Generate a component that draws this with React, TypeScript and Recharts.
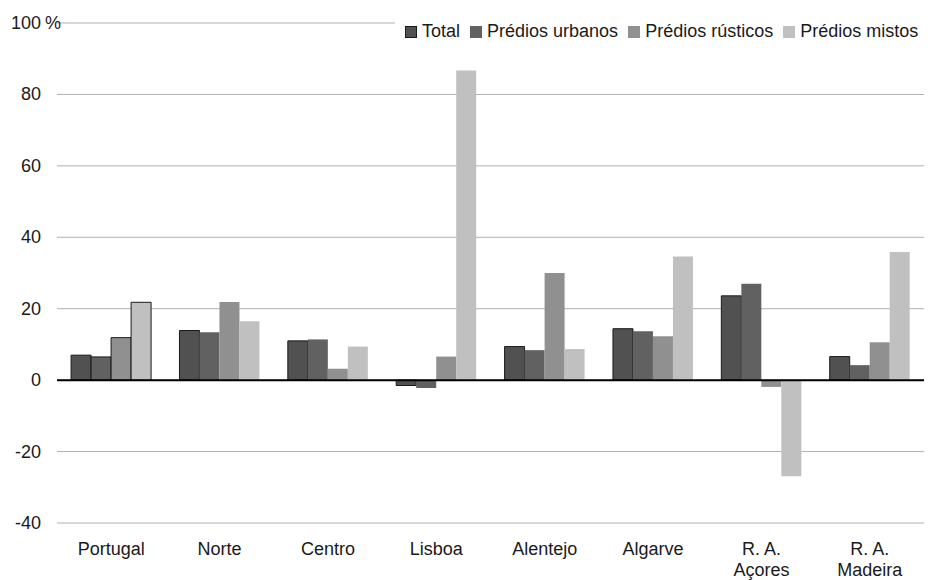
import { BarChart, Bar, XAxis, YAxis, CartesianGrid, ReferenceLine, Cell } from 'recharts';

const categories = ['Portugal', 'Norte', 'Centro', 'Lisboa', 'Alentejo', 'Algarve', 'R. A.\nAçores', 'R. A.\nMadeira'];
const total = [7.0, 13.9, 11.0, -1.5, 9.4, 14.4, 23.6, 6.6];
const urbanos = [6.5, 13.4, 11.4, -2.2, 8.4, 13.7, 27.0, 4.2];
const rusticos = [11.9, 21.9, 3.2, 6.6, 30.0, 12.3, -1.9, 10.6];
const mistos = [21.8, 16.5, 9.4, 86.7, 8.7, 34.6, -26.9, 35.9];
const yTicks = [-40, -20, 0, 20, 40, 60, 80, 100];

const series = [
  { key: 'total', name: 'Total', color: '#515151', border: true },
  { key: 'urbanos', name: 'Prédios urbanos', color: '#616161', border: false },
  { key: 'rusticos', name: 'Prédios rústicos', color: '#909090', border: false },
  { key: 'mistos', name: 'Prédios mistos', color: '#c0c0c0', border: false },
];

const data = categories.map((c, i) => ({
  name: c,
  total: total[i],
  urbanos: urbanos[i],
  rusticos: rusticos[i],
  mistos: mistos[i],
}));

const FONT = '"Liberation Sans", Arial, sans-serif';
const TEXT = '#1a1a1a';

function YTick({ x, y, payload }: any) {
  return (
    <g>
      <text x={x} y={y} dy={6} textAnchor="end" fontSize={18} fontFamily={FONT} fill={TEXT}>
        {payload.value}
      </text>
      {payload.value === 100 && (
        <text x={x + 4} y={y} dy={6} textAnchor="start" fontSize={18} fontFamily={FONT} fill={TEXT}>
          %
        </text>
      )}
    </g>
  );
}

function XTick({ x, y, payload }: any) {
  const lines = String(payload.value).split('\n');
  return (
    <text x={x} y={y} textAnchor="middle" fontSize={18} fontFamily={FONT} fill={TEXT}>
      {lines.map((l, i) => (
        <tspan key={i} x={x} dy={i === 0 ? 32 : 21}>{l}</tspan>
      ))}
    </text>
  );
}

function LegendBox() {
  return (
    <div style={{ position: 'absolute', top: 21, left: 395, display: 'flex', alignItems: 'center', background: '#fff', padding: '0 0 0 10px', fontFamily: FONT, fontSize: 18, color: TEXT, whiteSpace: 'nowrap' }}>
      {series.map((s) => (
        <div key={s.key} style={{ display: 'flex', alignItems: 'center', marginRight: 10 }}>
          <span
            style={{
              display: 'inline-block',
              width: s.border ? 10 : 12,
              height: s.border ? 10 : 12,
              background: s.color,
              border: s.border ? '1px solid #1a1a1a' : 'none',
              marginRight: 5,
            }}
          />
          <span>{s.name}</span>
        </div>
      ))}
    </div>
  );
}

export default function App() {
  return (
    <div style={{ position: 'absolute', left: 0, top: 0, width: 928, height: 580, background: '#fff' }}>
      <BarChart width={928} height={580} data={data} margin={{ top: 23, right: 4, left: 0, bottom: 0 }} barCategoryGap="13%" barGap={0}>
        <CartesianGrid vertical={false} stroke="#b0b0b0" />
        <XAxis dataKey="name" axisLine={false} tickLine={false} tickSize={0} tickMargin={0} height={57} interval={0} tick={<XTick />} />
        <YAxis domain={[-40, 100]} ticks={yTicks} axisLine={false} tickLine={false} tickSize={0} tickMargin={16} width={57} tick={<YTick />} />
        {series.map((s) => (
          <Bar key={s.key} dataKey={s.key} name={s.name} fill={s.color} isAnimationActive={false}>
            {data.map((d, i) => (
              <Cell key={i} stroke={s.border || i === 0 ? '#1a1a1a' : 'none'} strokeWidth={1} />
            ))}
          </Bar>
        ))}
        <ReferenceLine y={0} stroke="#000" strokeWidth={2} />
      </BarChart>
      <LegendBox />
    </div>
  );
}
